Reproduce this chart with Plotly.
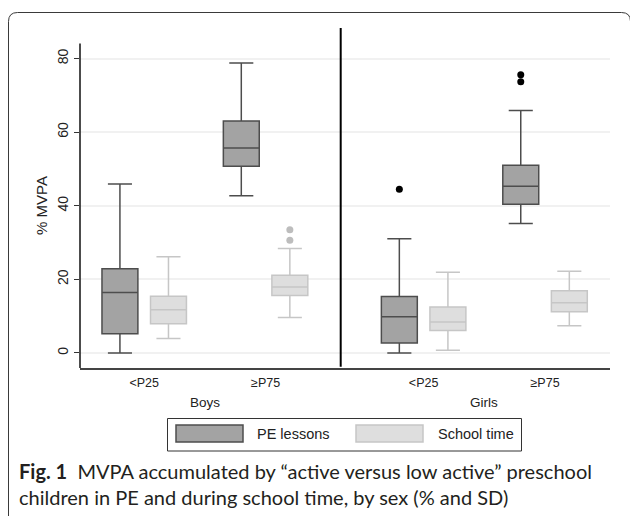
import plotly.graph_objects as go

# ---------------- data ----------------
groups = ["<P25", "≥P75"]
sexes = ["Boys", "Girls"]
series = ["PE lessons", "School time"]

boys_pe_q1 = [5.2, 50.7]
boys_pe_median = [16.4, 55.7]
boys_pe_q3 = [22.9, 63.0]
boys_pe_low = [0.0, 42.7]
boys_pe_high = [45.9, 78.8]
boys_pe_out = [[], []]

boys_sc_q1 = [7.9, 15.6]
boys_sc_median = [11.7, 17.9]
boys_sc_q3 = [15.4, 21.1]
boys_sc_low = [3.9, 9.6]
boys_sc_high = [26.1, 28.4]
boys_sc_out = [[], [30.6, 33.5]]

girls_pe_q1 = [2.7, 40.4]
girls_pe_median = [9.8, 45.3]
girls_pe_q3 = [15.3, 51.0]
girls_pe_low = [0.0, 35.2]
girls_pe_high = [31.0, 65.9]
girls_pe_out = [[44.5], [73.7, 75.6]]

girls_sc_q1 = [6.1, 11.2]
girls_sc_median = [8.4, 13.6]
girls_sc_q3 = [12.5, 16.9]
girls_sc_low = [0.7, 7.4]
girls_sc_high = [21.9, 22.2]
girls_sc_out = [[], []]

y_ticks = [0, 20, 40, 60, 80]

# ---------------- styling ----------------
W, H = 630, 516
ML, MR, MT, MB = 80, 20, 28, 148
PW, PH = W - ML - MR, H - MT - MB


def px(x):
    return (x - ML) / PW


def py(y):
    return (H - MB - y) / PH


SPLIT = px(340.7)
FONT = "Liberation Sans, Arial, sans-serif"

styles = {
    "PE lessons": dict(fill="#a3a3a3", line="#4d4d4d", marker="#000000"),
    "School time": dict(fill="#dedede", line="#c6c6c6", marker="#bdbdbd"),
}

fig = go.Figure()


def add_boxes(name, q1, med, q3, lo, hi, out, xa, ya):
    st = styles[name]
    for i, g in enumerate(groups):
        kw = {}
        if out[i]:
            kw["y"] = [out[i]]
        fig.add_trace(go.Box(
            name=name, x=[g], q1=[q1[i]], median=[med[i]], q3=[q3[i]],
            lowerfence=[lo[i]], upperfence=[hi[i]],
            boxpoints="outliers", fillcolor=st["fill"],
            line=dict(color=st["line"], width=1.5),
            marker=dict(color=st["marker"], size=7, line=dict(width=0)),
            whiskerwidth=0.67, xaxis=xa, yaxis=ya, showlegend=False,
            offsetgroup=name, **kw,
        ))


add_boxes(series[0], boys_pe_q1, boys_pe_median, boys_pe_q3, boys_pe_low, boys_pe_high, boys_pe_out, "x", "y")
add_boxes(series[1], boys_sc_q1, boys_sc_median, boys_sc_q3, boys_sc_low, boys_sc_high, boys_sc_out, "x", "y")
add_boxes(series[0], girls_pe_q1, girls_pe_median, girls_pe_q3, girls_pe_low, girls_pe_high, girls_pe_out, "x2", "y2")
add_boxes(series[1], girls_sc_q1, girls_sc_median, girls_sc_q3, girls_sc_low, girls_sc_high, girls_sc_out, "x2", "y2")

YR = [-4.1, 88.3]
xcommon = dict(type="category", categoryorder="array", categoryarray=groups,
               showline=True, linecolor="#444444", linewidth=1.5,
               ticks="", showgrid=False, zeroline=False, fixedrange=True,
               tickfont=dict(family=FONT, size=12.5, color="#222222"),
               ticklabelstandoff=2)
ycommon = dict(range=YR, tickvals=y_ticks, showgrid=True, gridcolor="#f1f1f1",
               gridwidth=1.5, zeroline=False, showline=False, fixedrange=True)

fig.update_layout(
    width=W, height=H,
    margin=dict(l=ML, r=MR, t=MT, b=MB, pad=0),
    paper_bgcolor="white", plot_bgcolor="white",
    boxmode="group", boxgap=0.2, boxgroupgap=0.26,
    xaxis=dict(domain=[0, SPLIT], range=[-0.529, 1.619], anchor="y", **xcommon),
    xaxis2=dict(domain=[SPLIT, 1], range=[-0.683, 1.535], anchor="y2", **xcommon),
    yaxis=dict(ticks="outside", ticklen=5, tickwidth=1, tickcolor="#333333",
               tickangle=-90, tickfont=dict(family=FONT, size=14, color="#222222"),
               anchor="x", **ycommon),
    yaxis2=dict(showticklabels=False, ticks="", anchor="x2", **ycommon),
    showlegend=False,
)

# y axis line (shorter than the divider), divider between panels
fig.add_shape(type="line", xref="paper", yref="y", x0=0, x1=0, y0=YR[0], y1=84.1,
              line=dict(color="#111111", width=1.5))
fig.add_shape(type="line", xref="paper", yref="paper", x0=SPLIT, x1=SPLIT, y0=0.004, y1=1,
              line=dict(color="#000000", width=2))

# outer rounded frame
r = 9
x0f, y0f, x1f, y1f = 8.5, 12.5, 630.5, 540
path = (f"M {px(x0f)},{py(y1f)} L {px(x0f)},{py(y0f + r)} "
        f"Q {px(x0f)},{py(y0f)} {px(x0f + r)},{py(y0f)} "
        f"L {px(x1f - r)},{py(y0f)} Q {px(x1f)},{py(y0f)} {px(x1f)},{py(y0f + r)} "
        f"L {px(x1f)},{py(y1f)}")
fig.add_shape(type="path", xref="paper", yref="paper", path=path,
              line=dict(color="#3a3a3a", width=1))


def note(text, x, y, size=13, family=FONT, xanchor="center", angle=0, color="#222222"):
    fig.add_annotation(text=text, xref="paper", yref="paper", x=px(x), y=py(y),
                       xanchor=xanchor, yanchor="middle", showarrow=False,
                       textangle=angle, font=dict(family=family, size=size, color=color))


# y title
note("% MVPA", 41, 206, size=15, angle=-90)

# panel labels
for label, xc in zip(sexes, [205, 484]):
    note(label, xc, 402, size=13.5)

# legend drawn as a framed key
fig.add_shape(type="rect", xref="paper", yref="paper", x0=px(167.5), x1=px(521.5),
              y0=py(451), y1=py(418.5), line=dict(color="#333333", width=1))
for name, sx, tx in zip(series, [176, 356], [255, 436]):
    st = styles[name]
    fig.add_shape(type="rect", xref="paper", yref="paper", x0=px(sx), x1=px(sx + 67),
                  y0=py(442), y1=py(425), fillcolor=st["fill"],
                  line=dict(color=st["line"], width=1.5))
    note(name, tx, 434, size=14.5, xanchor="left")

# caption
CAP = "Lato, Open Sans, sans-serif"
note("<b>Fig. 1</b>  MVPA accumulated by \u201cactive versus low active\u201d preschool",
     17, 471, size=20, family=CAP, xanchor="left", color="#231f20")
note("children in PE and during school time, by sex (% and SD)",
     17, 497, size=20, family=CAP, xanchor="left", color="#231f20")

fig.write_html("out.html", config={"displayModeBar": False},
               post_script="document.body.style.margin='0';")
